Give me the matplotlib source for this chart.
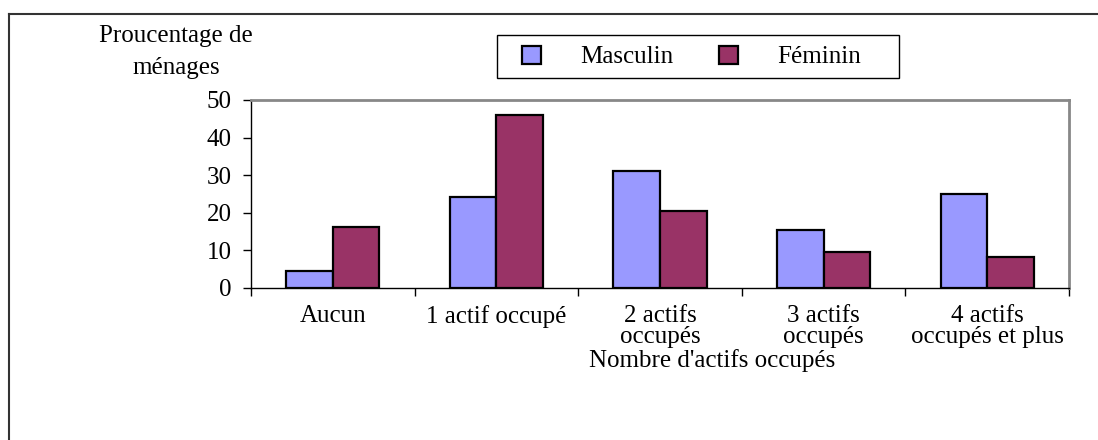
import numpy as np
import matplotlib
matplotlib.use("Agg")
import matplotlib.pyplot as plt
from matplotlib.lines import Line2D
from matplotlib.patches import Patch, Rectangle

categories = ["Aucun", "1 actif occupé", "2 actifs\noccupés", "3 actifs\noccupés",
              "4 actifs\noccupés et plus"]
masculin = [4.4, 24.1, 31.2, 15.5, 25.0]
feminin = [16.1, 46.1, 20.5, 9.5, 8.3]
yticks = [0, 10, 20, 30, 40, 50]

plt.rcParams["font.family"] = ["Liberation Serif", "DejaVu Serif"]
FS = 18
W, H = 1098, 440

fig = plt.figure(figsize=(W / 100, H / 100), dpi=100)
ax = fig.add_axes([251 / W, 152 / H, 818 / W, 188 / H])

x = np.arange(len(categories)) + 0.5
w = 0.285
ax.bar(x - w / 2, masculin, w, color="#9999FF", edgecolor="black", linewidth=1.6,
       label="Masculin", zorder=3)
ax.bar(x + w / 2, feminin, w, color="#993366", edgecolor="black", linewidth=1.6,
       label="Féminin", zorder=3)

ax.set_xlim(0, len(categories))
ax.set_ylim(0, 50)
ax.set_yticks(yticks)
ax.set_yticklabels([str(v) for v in yticks], fontsize=FS)
ax.set_xticks(np.arange(len(categories) + 1))
ax.set_xticklabels([])
ax.set_xticks(x, minor=True)
ax.set_xticklabels(categories, minor=True, fontsize=FS, linespacing=0.95)
ax.tick_params(axis="x", which="minor", length=0, pad=12)
ax.tick_params(axis="x", which="major", direction="out", length=6, width=1)
ax.tick_params(axis="y", direction="out", length=6, width=1, pad=8)

for side in ("top", "right"):
    ax.spines[side].set_color("#888888")
    ax.spines[side].set_linewidth(2)
for side in ("left", "bottom"):
    ax.spines[side].set_color("black")
    ax.spines[side].set_linewidth(1)

fig.text(176 / W, 1 - 52 / H, "Proucentage de\nménages", ha="center", va="center",
         fontsize=FS, linespacing=1.55)
fig.text(712 / W, 1 - 361 / H, "Nombre d'actifs occupés", ha="center", va="center",
         fontsize=FS)

handles = [Patch(facecolor="#9999FF", edgecolor="black", linewidth=1.6),
           Patch(facecolor="#993366", edgecolor="black", linewidth=1.6)]
leg = fig.legend(handles, ["Masculin", "Féminin"], ncol=2, fontsize=FS,
                 loc="center left", bbox_to_anchor=(522 / W, 1 - 57 / H),
                 frameon=False, borderpad=0, borderaxespad=0,
                 handlelength=0.76, handleheight=0.76, handletextpad=1.55,
                 columnspacing=1.85)
fig.add_artist(Rectangle((497 / W, 1 - 78 / H), 402 / W, 43 / H, fill=False,
                         edgecolor="black", linewidth=1, transform=fig.transFigure))

# outer chart frame
fig.add_artist(Line2D([9 / W, 1], [1 - 14 / H, 1 - 14 / H], color="#333333",
                      linewidth=1.5, transform=fig.transFigure))
fig.add_artist(Line2D([9 / W, 9 / W], [0, 1 - 14 / H], color="#333333",
                      linewidth=1.5, transform=fig.transFigure))

fig.savefig("out.png", dpi=100)
